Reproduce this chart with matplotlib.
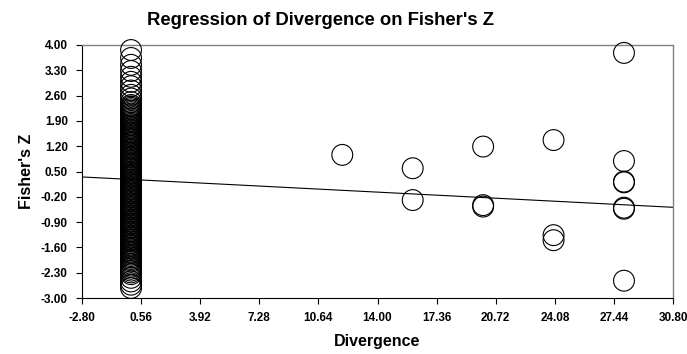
import matplotlib
matplotlib.use("Agg")
import matplotlib.pyplot as plt
import numpy as np

# Data
col_x = 0.0
col_y = [3.86, 3.64, 3.45, 3.28, 3.12, 2.98, 2.86, 2.74, 2.62, 2.52, 2.42, 2.34, 2.26, 2.18,
         2.10, 2.02, 1.94, 1.86, 1.78, 1.70, 1.62, 1.55, 1.47, 1.40, 1.32, 1.25, 1.17, 1.10,
         1.02, 0.95, 0.88, 0.80, 0.72, 0.65, 0.58, 0.50, 0.43, 0.36, 0.28, 0.21, 0.14, 0.06,
         -0.01, -0.08, -0.16, -0.23, -0.30, -0.38, -0.45, -0.52, -0.60, -0.67, -0.74, -0.82,
         -0.89, -0.96, -1.04, -1.11, -1.18, -1.26, -1.33, -1.40, -1.48, -1.56, -1.64, -1.72,
         -1.80, -1.88, -1.96, -2.05, -2.14, -2.24, -2.34, -2.44, -2.54, -2.63, -2.72,
         2.30, 2.22, 2.14, 2.06, 1.98, 1.90, 1.82, 1.74, 1.66, 1.58, 1.51, 1.43, 1.36, 1.29,
         1.21, 1.13, 1.06, 0.98, 0.91, 0.84, 0.76, 0.69, 0.61, 0.54, 0.46, 0.39, 0.32, 0.25,
         0.17, 0.10, 0.02, -0.05, -0.12, -0.19, -0.27, -0.34, -0.41, -0.49, -0.56, -0.63,
         -0.71, -0.78, -0.86, -0.93, -1.00, -1.07, -1.15, -1.22, -1.30, -1.37, -1.44, -1.52,
         -1.60, -1.68, -1.76, -1.84, -1.92, -2.00, -2.10, -2.19, -2.29]
right_x = [12, 16, 16, 20, 20, 20, 24, 24, 24, 28, 28, 28, 28, 28, 28, 28]
right_y = [0.96, 0.59, -0.29, 1.19, -0.43, -0.47, 1.37, -1.26, -1.40, 3.78, 0.79, 0.22, 0.20, -0.50, -0.53, -2.52]
intercept = 0.28
slope = -0.025

x_ticks = [-2.80, 0.56, 3.92, 7.28, 10.64, 14.00, 17.36, 20.72, 24.08, 27.44, 30.80]
y_ticks = [-3.00, -2.30, -1.60, -0.90, -0.20, 0.50, 1.20, 1.90, 2.60, 3.30, 4.00]

plt.rcParams['font.family'] = ['Liberation Sans', 'DejaVu Sans']

fig = plt.figure(figsize=(6.87, 3.54), dpi=100)
ax = fig.add_axes([0.119, 0.158, 0.861, 0.715])

xs = [col_x] * len(col_y) + right_x
ys = col_y + right_y
ax.scatter(xs, ys, s=225, facecolors='none', edgecolors='black', linewidths=0.8, clip_on=False, zorder=3)

lx = np.array([x_ticks[0], x_ticks[-1]])
ax.plot(lx, intercept + slope * lx, color='black', linewidth=0.8, zorder=2)

ax.set_xlim(x_ticks[0], x_ticks[-1])
ax.set_ylim(y_ticks[0], y_ticks[-1])
ax.set_xticks(x_ticks)
ax.set_yticks(y_ticks)
ax.set_xticklabels([f"{v:.2f}" for v in x_ticks], fontsize=8.5, fontweight='bold')
ax.set_yticklabels([f"{v:.2f}" for v in y_ticks], fontsize=8.5, fontweight='bold')
ax.tick_params(direction='out', length=4, width=0.8, pad=6)

for s in ['left', 'bottom']:
    ax.spines[s].set_color('black')
    ax.spines[s].set_linewidth(0.8)
for s in ['top', 'right']:
    ax.spines[s].set_color('#808080')
    ax.spines[s].set_linewidth(1.0)

ax.set_xlabel('Divergence', fontsize=11.5, fontweight='bold', labelpad=7)
ax.set_ylabel("Fisher's Z", fontsize=11.5, fontweight='bold', labelpad=5)
fig.text(0.466, 0.943, "Regression of Divergence on Fisher's Z", fontsize=13.3, fontweight='bold', ha='center', va='center')

fig.savefig('out.png', dpi=100)
